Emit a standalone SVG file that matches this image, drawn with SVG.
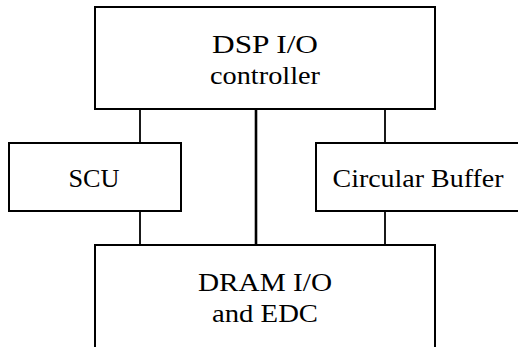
<svg xmlns="http://www.w3.org/2000/svg" width="518" height="347" viewBox="0 0 518 347">
<style>
.box{fill:#fff;stroke:#000;stroke-width:2}
.t{font-size:25px;fill:#000;text-anchor:middle}
.c{stroke:#000;stroke-width:1.8;fill:none}
.cm{stroke:#000;stroke-width:2.6;fill:none}
</style>
<rect width="518" height="347" fill="#fff"/>
<g id="connectors">
<line class="c" x1="140" y1="109" x2="140" y2="143"/>
<line class="c" x1="140" y1="211" x2="140" y2="245"/>
<line class="c" x1="385" y1="109" x2="385" y2="143"/>
<line class="c" x1="385" y1="211" x2="385" y2="245"/>
<line class="cm" x1="256" y1="109" x2="256" y2="245"/>
</g>
<g font-family="Liberation Serif, DejaVu Serif, serif">
<g id="dsp">
<rect class="box" x="95" y="7" width="340" height="102"/>
<text class="t" x="265" y="53" textLength="106" lengthAdjust="spacingAndGlyphs">DSP I/O</text>
<text class="t" x="265" y="84" textLength="110" lengthAdjust="spacingAndGlyphs">controller</text>
</g>
<g id="scu">
<rect class="box" x="9" y="143" width="172" height="68"/>
<text class="t" x="94" y="187" textLength="51" lengthAdjust="spacingAndGlyphs">SCU</text>
</g>
<g id="cbuf">
<rect class="box" x="316" y="143" width="210" height="68"/>
<text class="t" x="418" y="187" textLength="171" lengthAdjust="spacingAndGlyphs">Circular Buffer</text>
</g>
<g id="dram">
<rect class="box" x="95" y="245" width="340" height="130"/>
<text class="t" x="265" y="291" textLength="134" lengthAdjust="spacingAndGlyphs">DRAM I/O</text>
<text class="t" x="265" y="322" textLength="106" lengthAdjust="spacingAndGlyphs">and EDC</text>
</g>
</g>
</svg>
